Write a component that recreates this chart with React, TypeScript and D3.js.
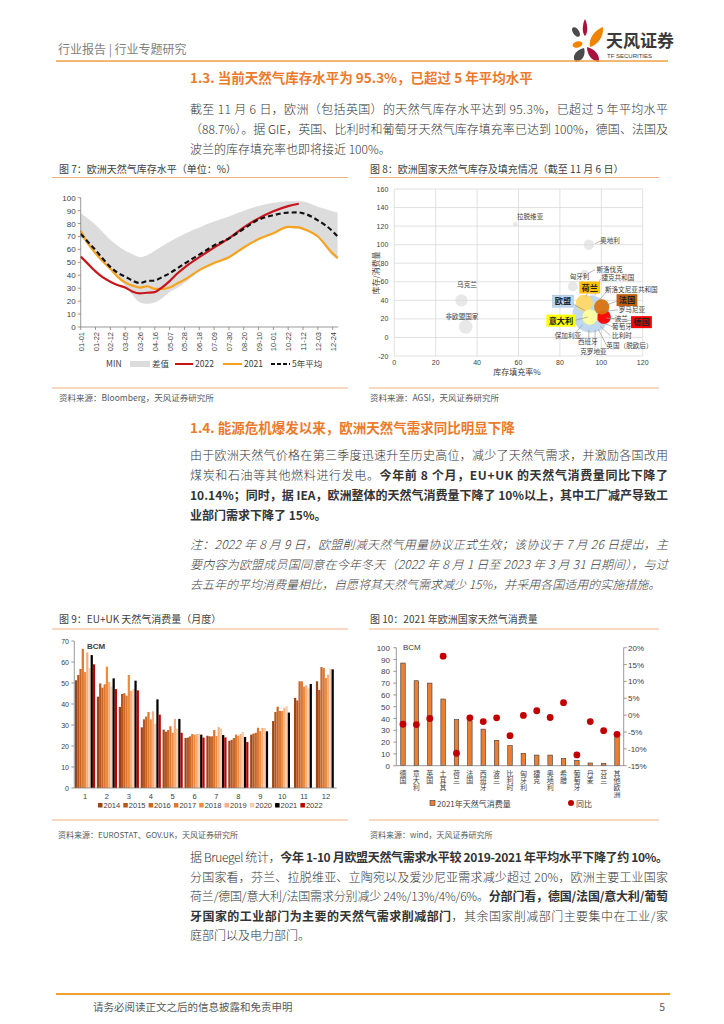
import React from 'react';
import * as d3 from 'd3';

const FONT = '"Noto Sans CJK SC","Noto Sans",sans-serif';
const PANEL_LINE = '#F4B183';
const TXT = '#333333';
const TITLE_ORANGE = '#EC7A2C';

// ---------------- Figure 7 data ----------------
const fig7Days = [0, 10, 21, 31, 42, 52, 63, 73, 84, 94, 105, 115, 126, 136, 147, 168, 189, 210, 231, 252, 273, 294, 309, 315, 336, 357, 364];
const fig7Max = [88, 84, 79, 73.5, 67.5, 63, 59, 56.5, 54, 55.5, 59, 62.5, 66, 69, 72, 77, 81.5, 85.5, 90, 93.5, 96, 97.3, 97.2, 97, 93, 89.5, 88.5];
const fig7Min = [70, 63, 56, 50, 44, 38, 32, 25, 19, 18, 19, 22, 27, 30, 34, 43, 49, 53.5, 61, 67.5, 72.5, 76.5, 76, 75, 69, 55, 52];
const fig7Avg5 = [72, 66, 59.5, 53, 46.5, 42, 39, 36, 34, 35.5, 36, 38.5, 41.5, 45, 49, 56, 63, 68.5, 76, 83, 86.5, 88.5, 88.6, 88, 82.5, 74, 70];
const fig7Y2022 = [54.5, 49, 43, 38.5, 35, 32.5, 30.5, 27.5, 26, 26.5, 27, 30.5, 35.5, 41, 46, 54, 61.5, 68.5, 77, 84, 89.5, 93.5, 95.3, null, null, null, null];
const fig7Y2021 = [74.5, 65, 57, 51, 45, 39, 34.5, 32, 30.5, 31.5, 29.5, 29.5, 30.5, 33.5, 36.5, 44, 49.5, 54, 61.5, 68, 72.5, 77.5, 77, 76, 70, 57, 53.5];
const fig7TickLabels = ['01-01', '01-22', '02-12', '03-05', '03-26', '04-16', '05-07', '05-28', '06-18', '07-09', '07-30', '08-20', '09-10', '10-01', '10-22', '11-12', '12-03', '12-24'];
const fig7TickDays = [0, 21, 42, 63, 84, 105, 126, 147, 168, 189, 210, 231, 252, 273, 294, 315, 336, 357];
const fig7YTicks = [0, 10, 20, 30, 40, 50, 60, 70, 80, 90, 100];

// ---------------- Figure 8 data ----------------
const fig8Names = ['拉脱维亚', '奥地利', '斯洛伐克', '匈牙利', '乌克兰', '非欧盟国家', '捷克共和国', '斯洛文尼亚共和国', '罗马尼亚', '波兰', '葡萄牙', '比利时', '英国（脱欧后）', '克罗地亚', '西班牙', '保加利亚', '欧盟', '荷兰', '德国', '法国', '意大利'];
const fig8FillRate = [58.5, 94, 92, 86.2, 32.4, 34.5, 96, 98, 98.5, 99, 100, 100, 100, 97, 94, 90, 95, 91.8, 101.3, 100.2, 94.5];
const fig8StockRatio = [122, 100, 69, 55, 40, 11.5, 45, 38, 28, 24, 18, 15, 12, 8, 10.5, 18, 25, 37, 22, 33, 22];
const fig8Size = [1.5, 8, 4, 7, 11, 14, 2, 1.5, 3, 4, 1.5, 3, 4, 1, 4, 1, 100, 21, 14, 17, 17];
const fig8XTicks = [0, 20, 40, 60, 80, 100, 120];
const fig8YTicks = [-20, 0, 20, 40, 60, 80, 100, 120, 140, 160];

// ---------------- Figure 9 data ----------------
const fig9Months = ['1', '2', '3', '4', '5', '6', '7', '8', '9', '10', '11', '12'];
const fig9Years = ['2014', '2015', '2016', '2017', '2018', '2019', '2020', '2021', '2022'];
const fig9Y2014 = [51.3, 43.5, 38.6, 28.9, 27.8, 23.8, 24.9, 22.5, 25.4, 31.9, 42.9, 50.8];
const fig9Y2015 = [53.8, 49.8, 44.8, 32.7, 26.8, 24, 24.6, 22.9, 25.9, 36.2, 41.7, 46.7];
const fig9Y2016 = [56.7, 47.8, 45.1, 34, 27.6, 24.6, 24.6, 23.8, 26.3, 38.7, 50.8, 57.6];
const fig9Y2017 = [66.3, 49.4, 44, 36.2, 29.4, 25.7, 27.6, 25.4, 28.7, 36.7, 50.8, 57.1];
const fig9Y2018 = [55.2, 57.8, 53.8, 32.7, 26.3, 25.4, 24.8, 24.9, 27.1, 36.7, 48.3, 52.4];
const fig9Y2019 = [64.6, 50.5, 46.2, 36.5, 32.9, 25.7, 29, 25.7, 28.6, 38.1, 48.9, 54];
const fig9Y2020 = [57.1, 48.3, 47.1, 30.6, 28.3, 25.9, 28.3, 26.7, 28.6, 39, 47.4, 56.8];
const fig9Y2021 = [63.3, 52.2, 51.1, 42.2, 32.9, 25.4, 25.2, 24.3, 27, 35.9, 49.5, 56.5];
const fig9Y2022 = [58.9, 47.1, 46.5, 34.9, 26.3, 24, 24.1, 21.9];
const fig9YTicks = [0, 10, 20, 30, 40, 50, 60, 70];

// ---------------- Figure 10 data ----------------
const fig10Countries = ['德国', '意大利', '英国', '土耳其', '荷兰', '法国', '西班牙', '波兰', '比利时', '匈牙利', '捷克', '奥地利', '希腊', '葡萄牙', '丹麦', '芬兰', '其他欧洲'];
const fig10Consumption = [87, 72, 70, 56.5, 39, 38, 31, 21.5, 17, 10.5, 9, 9, 6, 4.5, 2.3, 2, 26];
const fig10YoY = [-2.7, -2.8, -1, 17.5, -11.3, -0.8, -1.9, -0.8, -6.1, -0.1, 1.3, -0.7, 3.7, -11.8, -1.9, -4.6, -5.7];
const fig10LeftTicks = [0, 10, 20, 30, 40, 50, 60, 70, 80, 90, 100];
const fig10RightTicks = [-15, -10, -5, 0, 5, 10, 15, 20];

// ---------------- Text ----------------
type Seg = { t: string; b?: boolean };
const para13: Seg[][] = [
  [{ t: '截至 11 月 6 日，欧洲（包括英国）的天然气库存水平达到 95.3%，已超过 5 年平均水平' }],
  [{ t: '（88.7%）。据 GIE，英国、比利时和葡萄牙天然气库存填充率已达到 100%，德国、法国及' }],
  [{ t: '波兰的库存填充率也即将接近 100%。' }],
];
const para14: Seg[][] = [
  [{ t: '由于欧洲天然气价格在第三季度迅速升至历史高位，减少了天然气需求，并激励各国改用' }],
  [{ t: '煤炭和石油等其他燃料进行发电。' }, { t: '今年前 8 个月，EU+UK 的天然气消费量同比下降了', b: true }],
  [{ t: '10.14%；同时，据 IEA，欧洲整体的天然气消费量下降了 10%以上，其中工厂减产导致工', b: true }],
  [{ t: '业部门需求下降了 15%。', b: true }],
];
const noteLines: Seg[][] = [
  [{ t: '注：2022 年 8 月 9 日，欧盟削减天然气用量协议正式生效；该协议于 7 月 26 日提出，主' }],
  [{ t: '要内容为欧盟成员国同意在今年冬天（2022 年 8 月 1 日至 2023 年 3 月 31 日期间），与过' }],
  [{ t: '去五年的平均消费量相比，自愿将其天然气需求减少 15%，并采用各国适用的实施措施。' }],
];
const paraBottom: Seg[][] = [
  [{ t: '据 Bruegel 统计，' }, { t: '今年 1-10 月欧盟天然气需求水平较 2019-2021 年平均水平下降了约 10%。', b: true }],
  [{ t: '分国家看，芬兰、拉脱维亚、立陶宛以及爱沙尼亚需求减少超过 20%，欧洲主要工业国家' }],
  [{ t: '荷兰/德国/意大利/法国需求分别减少 24%/13%/4%/6%。' }, { t: '分部门看，德国/法国/意大利/葡萄', b: true }],
  [{ t: '牙国家的工业部门为主要的天然气需求削减部门', b: true }, { t: '，其余国家削减部门主要集中在工业/家' }],
  [{ t: '庭部门以及电力部门。' }],
];

function Para({ x, y0, lh, width, lines, size, italic, fill }: any) {
  return (
    <g>
      {lines.map((segs: Seg[], i: number) => (
        <text
          key={i}
          x={x}
          y={y0 + i * lh}
          fontSize={size}
          fill={fill}
          fontStyle={italic ? 'italic' : undefined}
          textLength={i < lines.length - 1 ? width : undefined}
          lengthAdjust="spacing"
        >
          {segs.map((s, j) => (
            <tspan key={j} fontWeight={s.b ? 700 : 300}>{s.t}</tspan>
          ))}
        </text>
      ))}
    </g>
  );
}

function Header() {
  return (
    <g>
      <text x={58} y={54} fontSize={12} fill="#7f7f7f">行业报告 | 行业专题研究</text>
      <g>
        <path d="M585,19 C588,25 588,33 585,36 C582,33 582,25 585,19 Z" fill="#A8123E" />
        <ellipse cx={576} cy={32} rx={3} ry={5.5} transform="rotate(-35 576 32)" fill="#4a4a4a" />
        <path d="M603,27 C604,36 598,45 590,47 C588,40 594,30 603,27 Z" fill="#F08300" />
        <ellipse cx={577.5} cy={44.5} rx={5} ry={3.2} transform="rotate(-15 577.5 44.5)" fill="#F08300" />
        <path d="M584,48 C586,54 583,61 576,62 C571,58 575,50 584,48 Z" fill="#4a4a4a" />
        <path d="M587,47 C595,49 600,55 599,62 C592,61 587,55 587,47 Z" fill="#A8123E" />
      </g>
      <text x={606} y={47} fontSize={17} fontWeight={700} fill="#3a3a3a">天风证券</text>
      <text x={607} y={58} fontSize={6} fill="#3a3a3a" fontFamily="'Liberation Sans',sans-serif">TF SECURITIES</text>
      <line x1={56} x2={668} y1={61} y2={61} stroke="#F0A040" strokeWidth={1.5} />
    </g>
  );
}

function Fig7() {
  const x = d3.scaleLinear().domain([0, 365]).range([80.7, 338.3]);
  const y = d3.scaleLinear().domain([0, 100]).range([327, 197.7]);
  const idx = fig7Days.map((_, i) => i);
  const band = d3.area<number>().x((i) => x(fig7Days[i])).y0((i) => y(fig7Min[i])).y1((i) => y(fig7Max[i])).curve(d3.curveMonotoneX)(idx);
  const mk = (vals: (number | null)[]) =>
    d3.line<number>().defined((i) => vals[i] != null).x((i) => x(fig7Days[i])).y((i) => y(vals[i] as number)).curve(d3.curveMonotoneX)(idx) || '';
  return (
    <g>
      <text x={59} y={173} fontSize={10} fill="#404040">图 7：欧洲天然气库存水平（单位：%）</text>
      <line x1={52} x2={348} y1={177.5} y2={177.5} stroke={PANEL_LINE} strokeWidth={1.2} />
      <path d={band || ''} fill="#DCDCDC" />
      <path d={mk(fig7Y2021)} fill="none" stroke="#F7A21B" strokeWidth={2.2} />
      <path d={mk(fig7Y2022)} fill="none" stroke="#C8161D" strokeWidth={2.2} />
      <path d={mk(fig7Avg5)} fill="none" stroke="#111" strokeWidth={2.2} strokeDasharray="5,3" />
      <line x1={x(0)} x2={x(0)} y1={y(100)} y2={y(0)} stroke="#808080" strokeWidth={0.8} />
      <line x1={x(0)} x2={x(365)} y1={y(0)} y2={y(0)} stroke="#808080" strokeWidth={0.8} />
      {fig7YTicks.map((t) => (
        <g key={t}>
          <line x1={x(0) - 3} x2={x(0)} y1={y(t)} y2={y(t)} stroke="#808080" strokeWidth={0.8} />
          <text x={x(0) - 5} y={y(t) + 3} fontSize={8} textAnchor="end" fill="#404040" fontFamily="'Liberation Sans',sans-serif">{t}</text>
        </g>
      ))}
      {fig7TickDays.map((d, i) => (
        <g key={d}>
          <line x1={x(d)} x2={x(d)} y1={y(0)} y2={y(0) + 3} stroke="#808080" strokeWidth={0.8} />
          <text transform={`translate(${x(d) + 3},${y(0) + 5}) rotate(-90)`} fontSize={7.5} textAnchor="end" fill="#404040" fontFamily="'Liberation Sans',sans-serif">{fig7TickLabels[i]}</text>
        </g>
      ))}
      <g fontSize={8.5} fill="#404040">
        <text x={106} y={367}>MIN</text>
        <rect x={130} y={361} width={20} height={6} fill="#DCDCDC" />
        <text x={152} y={367}>差值</text>
        <line x1={175} x2={193} y1={364} y2={364} stroke="#C8161D" strokeWidth={2} />
        <text x={195} y={367}>2022</text>
        <line x1={223} x2={242} y1={364} y2={364} stroke="#F7A21B" strokeWidth={2} />
        <text x={244} y={367}>2021</text>
        <line x1={271} x2={290} y1={364} y2={364} stroke="#111" strokeWidth={2} strokeDasharray="4,2" />
        <text x={292} y={367}>5年平均</text>
      </g>
      <line x1={52} x2={348} y1={388} y2={388} stroke={PANEL_LINE} strokeWidth={1.2} />
      <text x={59} y={401} fontSize={8.5} fill="#595959">资料来源：Bloomberg，天风证券研究所</text>
    </g>
  );
}

const fig8Colors: Record<string, string> = { '欧盟': '#BDD7EE', '荷兰': '#FFD966', '德国': '#FF0000', '法国': '#D9730D', '意大利': '#FFFF99', '罗马尼亚': '#D8BE92' };

// label layout (in data units): [name, labelX, labelY, lineFromX, lineFromY, lineToX, lineToY, boxColor]
const fig8LabelLayout: [string, number, number, number | null, number | null, number | null, number | null, string | null][] = [
  ['拉脱维亚', 65.6, 130, null, null, null, null, null],
  ['奥地利', 104.2, 104.8, 97, 101, 99.5, 104, null],
  ['斯洛伐克', 104, 73.5, 93.5, 69, 97, 73, null],
  ['捷克共和国', 108, 64.2, 97, 46, 99.5, 63, null],
  ['匈牙利', 89.5, 65.8, null, null, null, null, null],
  ['斯洛文尼亚共和国', 114.5, 51.8, 99, 40, 103, 51, null],
  ['罗马尼亚', 114.8, 29.8, 102, 28, 108, 29.8, null],
  ['波兰', 109.7, 20.2, 102.5, 21, 106.5, 20.2, null],
  ['葡萄牙', 110, 11.2, 101, 16, 105.5, 11.2, null],
  ['比利时', 110, 1.6, 99.5, 12, 104.5, 1.8, null],
  ['英国（脱欧后）', 113.6, -8.5, 98.5, 9, 102.5, -8.5, null],
  ['克罗地亚', 96.2, -15.2, 97, 8, 97, -11, null],
  ['西班牙', 93.5, -5, 94, 8, 94, -1, null],
  ['保加利亚', 83.9, 1.7, 91, 14, 87.5, 4.5, null],
  ['非欧盟国家', 32.7, 22.5, null, null, null, null, null],
  ['乌克兰', 35.1, 57, null, null, null, null, null],
  ['荷兰', 94.4, 53.8, 93.5, 48.5, 92.5, 44, '#FFC000'],
  ['欧盟', 81.5, 39.1, 85.5, 37, 92, 29, '#BDD7EE'],
  ['法国', 112.4, 40.2, 107.5, 39, 101.5, 34, '#C55A11'],
  ['德国', 119.4, 16.5, 114.5, 18, 102.5, 21, '#FF0000'],
  ['意大利', 80.5, 18.1, 86.5, 18, 93.5, 22, '#FFFF00'],
];

function Fig8() {
  const x = d3.scaleLinear().domain([0, 120]).range([394.3, 642.7]);
  const y = d3.scaleLinear().domain([-20, 160]).range([356, 189]);
  const r = d3.scaleSqrt().domain([0, 100]).range([0, 18.5]);
  return (
    <g>
      <text x={370} y={173} fontSize={10} fill="#404040">图 8：欧洲国家天然气库存及填充情况（截至 11 月 6 日）</text>
      <line x1={369} x2={659} y1={177.5} y2={177.5} stroke={PANEL_LINE} strokeWidth={1.2} />
      {fig8XTicks.map((t) => (
        <g key={'x' + t}>
          <line x1={x(t)} x2={x(t)} y1={y(-20)} y2={y(160)} stroke="#D9D9D9" strokeWidth={0.8} />
          <text x={x(t)} y={y(-20) + 9} fontSize={7} textAnchor="middle" fill="#404040" fontFamily="'Liberation Sans',sans-serif">{t}</text>
        </g>
      ))}
      {fig8YTicks.map((t) => (
        <g key={'y' + t}>
          <line x1={x(0)} x2={x(120)} y1={y(t)} y2={y(t)} stroke="#D9D9D9" strokeWidth={0.8} />
          <text x={x(0) - 6} y={y(t) + 2.5} fontSize={7} textAnchor="end" fill="#404040" fontFamily="'Liberation Sans',sans-serif">{t}</text>
        </g>
      ))}
      <text x={517} y={375} fontSize={8} textAnchor="middle" fill="#404040">库存填充率%</text>
      <text transform="translate(379,273) rotate(-90)" fontSize={8} textAnchor="middle" fill="#404040">库存/消费量</text>
      {fig8Names.map((n, i) => {
        const col = fig8Colors[n];
        return (
          <circle key={n} cx={x(fig8FillRate[i])} cy={y(fig8StockRatio[i])} r={r(fig8Size[i])}
            fill={col || '#D9D9D9'} fillOpacity={col ? 0.95 : 0.6} />
        );
      })}
      {fig8LabelLayout.map(([n, lx, ly, fx, fy, tx, ty, box]) => {
        const w = n.length * 8.4 + 4;
        return (
          <g key={'l' + n}>
            {fx != null && <line x1={x(fx)} y1={y(fy as number)} x2={x(tx as number)} y2={y(ty as number)} stroke="#8c8c8c" strokeWidth={0.6} />}
            {box && <rect x={x(lx) - w / 2} y={y(ly) - 6} width={w} height={12} fill={box} stroke={box === '#BDD7EE' ? '#9DB7D5' : 'none'} strokeWidth={0.5} />}
            <text x={x(lx)} y={y(ly) + (box ? 3 : 2.4)} fontSize={box ? 8.2 : 6.6} fontWeight={box ? 700 : 400} textAnchor="middle" fill={box ? '#222' : '#404040'}>{n}</text>
          </g>
        );
      })}
      <line x1={369} x2={659} y1={388} y2={388} stroke={PANEL_LINE} strokeWidth={1.2} />
      <text x={370} y={401} fontSize={8.5} fill="#595959">资料来源：AGSI，天风证券研究所</text>
    </g>
  );
}

const fig9Colors = ['#9C4413', '#B8561E', '#CB6626', '#DC7836', '#F08A3C', '#F4AE80', '#F8CBAA', '#000000', '#C00000'];

function Fig9() {
  const x0 = d3.scaleBand().domain(fig9Months).range([74.3, 336.7]).paddingInner(0.08).paddingOuter(0.03);
  const x1 = d3.scaleBand().domain(fig9Years).range([0, x0.bandwidth()]);
  const y = d3.scaleLinear().domain([0, 70]).range([788, 641]);
  const series = [fig9Y2014, fig9Y2015, fig9Y2016, fig9Y2017, fig9Y2018, fig9Y2019, fig9Y2020, fig9Y2021, fig9Y2022];
  return (
    <g>
      <text x={59} y={623} fontSize={10} fill="#404040">图 9：EU+UK 天然气消费量（月度）</text>
      <line x1={52} x2={348} y1={629} y2={629} stroke={PANEL_LINE} strokeWidth={1.2} />
      {series.map((vals, si) =>
        vals.map((v, mi) => (
          <rect key={si + '-' + mi} x={(x0(fig9Months[mi]) as number) + (x1(fig9Years[si]) as number)} y={y(v)}
            width={x1.bandwidth()} height={y(0) - y(v)} fill={fig9Colors[si]} />
        ))
      )}
      <line x1={74.3} x2={74.3} y1={y(70)} y2={y(0)} stroke="#808080" strokeWidth={0.8} />
      <line x1={74.3} x2={336.7} y1={y(0)} y2={y(0)} stroke="#808080" strokeWidth={0.8} />
      {fig9YTicks.map((t) => (
        <g key={t}>
          <line x1={71.3} x2={74.3} y1={y(t)} y2={y(t)} stroke="#808080" strokeWidth={0.8} />
          <text x={69} y={y(t) + 2.5} fontSize={7} textAnchor="end" fill="#404040" fontFamily="'Liberation Sans',sans-serif">{t}</text>
        </g>
      ))}
      {fig9Months.map((m) => (
        <text key={m} x={(x0(m) as number) + x0.bandwidth() / 2} y={799} fontSize={7.5} textAnchor="middle" fill="#404040" fontFamily="'Liberation Sans',sans-serif">{m}</text>
      ))}
      <text x={87} y={649} fontSize={8} fontWeight={700} fill="#404040" fontFamily="'Liberation Sans',sans-serif">BCM</text>
      {fig9Years.map((yr, i) => (
        <g key={yr}>
          <rect x={98 + i * 25.3} y={803} width={4.5} height={4.5} fill={fig9Colors[i]} />
          <text x={103.5 + i * 25.3} y={808} fontSize={7.5} fill="#404040" fontFamily="'Liberation Sans',sans-serif">{yr}</text>
        </g>
      ))}
      <line x1={52} x2={348} y1={820} y2={820} stroke={PANEL_LINE} strokeWidth={1.2} />
      <text x={58} y={838} fontSize={8} fill="#595959">资料来源：EUROSTAT、GOV.UK，天风证券研究所</text>
    </g>
  );
}

function Fig10() {
  const x = d3.scaleBand().domain(fig10Countries).range([396.3, 623.7]);
  const yL = d3.scaleLinear().domain([0, 100]).range([765.7, 647.7]);
  const yR = d3.scaleLinear().domain([-15, 20]).range([765.7, 647.7]);
  const bw = 4.5;
  return (
    <g>
      <text x={370} y={623} fontSize={10} fill="#404040">图 10：2021 年欧洲国家天然气消费量</text>
      <line x1={369} x2={659} y1={629} y2={629} stroke={PANEL_LINE} strokeWidth={1.2} />
      {fig10Countries.map((c, i) => {
        const cx = (x(c) as number) + x.bandwidth() / 2;
        return (
          <rect key={c} x={cx - bw / 2} y={yL(fig10Consumption[i])} width={bw} height={yL(0) - yL(fig10Consumption[i])}
            fill="#ED7D31" stroke="#3a3a3a" strokeWidth={0.6} />
        );
      })}
      {fig10Countries.map((c, i) => {
        const cx = (x(c) as number) + x.bandwidth() / 2;
        return <circle key={'d' + c} cx={cx} cy={yR(fig10YoY[i])} r={3.4} fill="#C00000" />;
      })}
      <line x1={396.3} x2={396.3} y1={647.7} y2={765.7} stroke="#808080" strokeWidth={0.8} />
      <line x1={623.7} x2={623.7} y1={647.7} y2={765.7} stroke="#808080" strokeWidth={0.8} />
      <line x1={396.3} x2={623.7} y1={765.7} y2={765.7} stroke="#808080" strokeWidth={0.8} />
      {fig10LeftTicks.map((t) => (
        <g key={'l' + t}>
          <line x1={393.3} x2={396.3} y1={yL(t)} y2={yL(t)} stroke="#808080" strokeWidth={0.8} />
          <text x={390} y={yL(t) + 3} fontSize={8} textAnchor="end" fill="#404040" fontFamily="'Liberation Sans',sans-serif">{t}</text>
        </g>
      ))}
      {fig10RightTicks.map((t) => (
        <g key={'r' + t}>
          <line x1={623.7} x2={626.7} y1={yR(t)} y2={yR(t)} stroke="#808080" strokeWidth={0.8} />
          <text x={628} y={yR(t) + 3} fontSize={8} textAnchor="start" fill="#404040" fontFamily="'Liberation Sans',sans-serif">{t}%</text>
        </g>
      ))}
      <text x={403} y={650} fontSize={8} fill="#404040" fontFamily="'Liberation Sans',sans-serif">BCM</text>
      {fig10Countries.map((c) => {
        const cx = (x(c) as number) + x.bandwidth() / 2;
        return (
          <text key={'t' + c} x={cx} y={770} fontSize={7} fill="#404040" style={{ writingMode: 'vertical-rl' }}>{c}</text>
        );
      })}
      <rect x={430} y={800.5} width={5} height={5} fill="#ED7D31" stroke="#3a3a3a" strokeWidth={0.6} />
      <text x={437} y={806.5} fontSize={8} fill="#404040">2021年天然气消费量</text>
      <circle cx={571} cy={803} r={3} fill="#C00000" />
      <text x={576} y={806.5} fontSize={8} fill="#404040">同比</text>
      <line x1={369} x2={659} y1={820} y2={820} stroke={PANEL_LINE} strokeWidth={1.2} />
      <text x={370} y={838} fontSize={8} fill="#595959">资料来源：wind，天风证券研究所</text>
    </g>
  );
}

export default function App() {
  return (
    <div style={{ position: 'absolute', left: 0, top: 0 }}>
      <svg width={724} height={1024} style={{ display: 'block', fontFamily: FONT }}>
        <rect width={724} height={1024} fill="#ffffff" />
        <Header />
        <text x={190} y={83} fontSize={13.5} fontWeight={700} fill={TITLE_ORANGE}>1.3. 当前天然气库存水平为 95.3%，已超过 5 年平均水平</text>
        <Para x={190} y0={114} lh={20} width={478} lines={para13} size={12} fill={TXT} />
        <Fig7 />
        <Fig8 />
        <text x={190} y={433} fontSize={13.5} fontWeight={700} fill={TITLE_ORANGE}>1.4. 能源危机爆发以来，欧洲天然气需求同比明显下降</text>
        <Para x={190} y0={460} lh={20} width={478} lines={para14} size={12} fill={TXT} />
        <Para x={190} y0={549} lh={20} width={478} lines={noteLines} size={12} fill="#404040" italic />
        <Fig9 />
        <Fig10 />
        <Para x={190} y0={862} lh={19.5} width={478} lines={paraBottom} size={12} fill={TXT} />
        <line x1={56} x2={670} y1={994} y2={994} stroke="#F0A030" strokeWidth={2} />
        <text x={93} y={1011} fontSize={10.5} fill="#595959">请务必阅读正文之后的信息披露和免责申明</text>
        <text x={665} y={1011} fontSize={10.5} textAnchor="end" fill="#595959">5</text>
      </svg>
    </div>
  );
}
